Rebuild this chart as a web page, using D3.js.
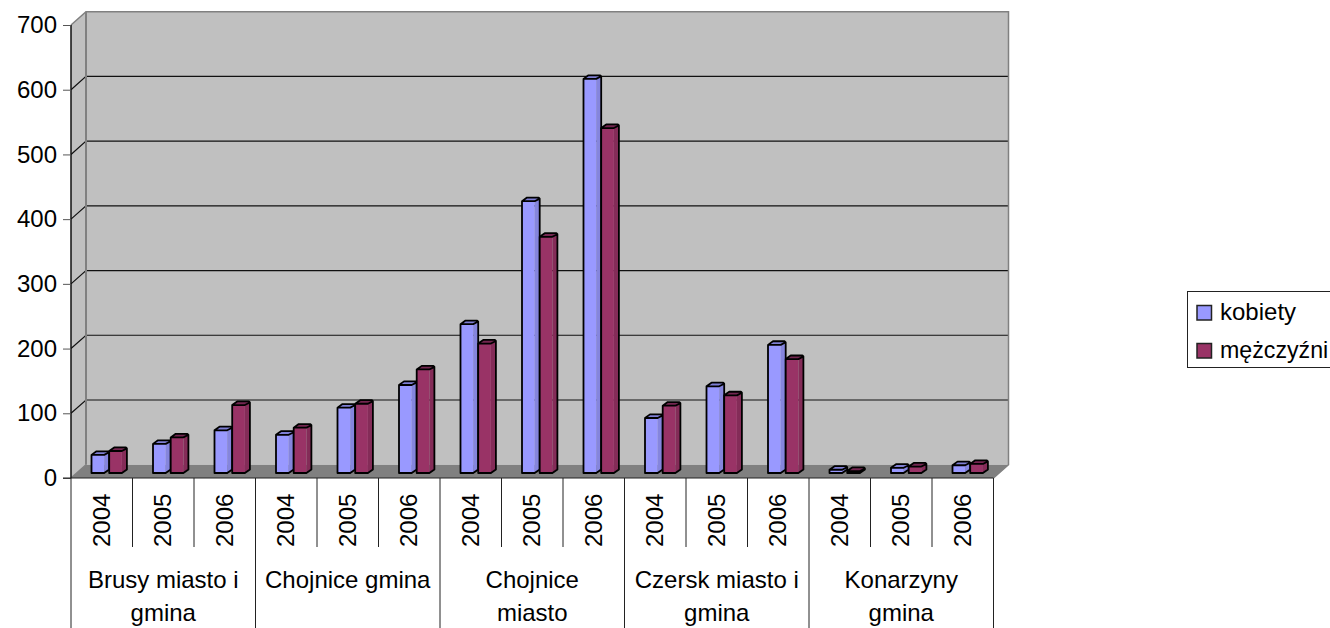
<!DOCTYPE html>
<html><head><meta charset="utf-8">
<script src="https://cdn.jsdelivr.net/npm/d3@7"></script>
<style>html,body{margin:0;padding:0;background:#fff}svg{display:block}text{font-family:"Liberation Sans",Arial,sans-serif;fill:#000}</style>
</head><body><svg id="c" width="1330" height="628"></svg>
<script>
const groups=["Brusy miasto i|gmina","Chojnice gmina","Chojnice|miasto","Czersk miasto i|gmina","Konarzyny|gmina"];
const years=["2004","2005","2006"];
const kobiety=[28,45,66,59,101,136,230,420,609,85,134,198,5,8,12];
const mezczyzni=[34,55,105,70,107,160,200,365,533,104,120,176,3,10,14];
const yTicks=[0,100,200,300,400,500,600,700];
const seriesNames=["kobiety","mężczyźni"];
const seriesColors=[{f:"#9999ff",s:"#8585dd",t:"#7f7fd4"},{f:"#993366",s:"#842c58",t:"#732650"}];

const svg=d3.select("#c");
const X0=71,X1=993.5,Y0=478,Y1=25,DX=15,DY=13.3;
const y=d3.scaleLinear().domain([0,700]).range([Y0,Y1]);
const keys=d3.range(15);
const x=d3.scaleBand().domain(keys).range([X0,X1]);

// walls
svg.append("polygon").attr("points",`${X0},${Y1} ${X0+DX},${Y1-DY} ${X0+DX},${Y0-DY} ${X0},${Y0}`).attr("fill","#c0c0c0");
svg.append("rect").attr("x",X0+DX).attr("y",Y1-DY).attr("width",X1-X0).attr("height",Y0-Y1).attr("fill","#c0c0c0");
svg.append("polygon").attr("points",`${X0},${Y0} ${X0+DX},${Y0-DY} ${X1+DX},${Y0-DY} ${X1},${Y0}`).attr("fill","#808080");
// grid
yTicks.filter(d=>d>0&&d<700).forEach(d=>{
  svg.append("path").attr("d",`M${X0},${y(d)}L${X0+DX},${y(d)-DY}H${X1+DX}`).attr("fill","none").attr("stroke","#111").attr("stroke-width",1.2);
});
// wall edges
svg.append("path").attr("d",`M${X0},${Y1}L${X0+DX},${Y1-DY}H${X1+DX}V${Y0-DY}L${X1},${Y0}`).attr("fill","none").attr("stroke","#808080").attr("stroke-width",1.5);
svg.append("line").attr("x1",X0+DX).attr("x2",X0+DX).attr("y1",Y1-DY).attr("y2",Y0-DY).attr("stroke","#808080").attr("stroke-width",2);
svg.append("line").attr("x1",X0).attr("x2",X0+DX).attr("y1",Y0).attr("y2",Y0-DY).attr("stroke","#808080").attr("stroke-width",1.5);

// y axis
const ay=svg.append("g").attr("transform",`translate(${X0},0)`).call(d3.axisLeft(y).tickValues(yTicks).tickSize(8).tickPadding(6));
ay.select(".domain").attr("stroke","#111").attr("stroke-width",1.5).attr("d",`M0,${Y1}V${Y0}`);
ay.selectAll(".tick line").attr("stroke","#555");
ay.selectAll("text").attr("font-size",24).style("font-family",'"Liberation Sans"').attr("fill","#000");

// bars: narrow prisms whose total width includes the shaded right side
const BW=17.7,BDX=5,BDY=3.6,BOX=20.5,BY=5;
[kobiety,mezczyzni].forEach((vals,si)=>{
  const c=seriesColors[si];
  const g=svg.append("g");
  vals.forEach((v,i)=>{
    const x0=x(i)+BOX+si*BW, x1=x0+BW, xm=x1-BDX, yb=y(0)-BY, yt=y(v)-BY;
    const b=g.append("g");
    b.append("path").attr("fill",c.f).attr("d",`M${x0},${yt}H${xm}V${yb}H${x0}Z`);
    b.append("path").attr("fill",c.s).attr("d",`M${xm},${yt}L${x1},${yt-BDY+1}V${yb-BDY}L${xm},${yb}Z`);
    b.append("path").attr("fill",c.t).attr("d",`M${x0},${yt}L${x0+BDX},${yt-BDY}H${x1-1}L${x1},${yt-BDY+1}L${xm},${yt}Z`);
    b.append("path").attr("fill","none").attr("stroke","#000").attr("stroke-width",1.8).attr("stroke-linejoin","round")
      .attr("d",`M${x0},${yt}L${x0+BDX},${yt-BDY}H${x1-1}L${x1},${yt-BDY+1}V${yb-BDY}L${xm},${yb}H${x0}Z M${x0},${yt}H${xm}L${x1},${yt-BDY+1}`);
  });
});

// x axis
svg.append("line").attr("x1",X0-8).attr("x2",X1).attr("y1",Y0).attr("y2",Y0).attr("stroke","#222").attr("stroke-width",1);
const gx=svg.append("g");
keys.forEach(i=>{
  const cx=x(i)+x.bandwidth()/2;
  gx.append("text").attr("transform",`translate(${cx+8},547) rotate(-90)`).attr("font-size",24).text(years[i%3]);
});
d3.range(16).forEach(i=>{
  const xp=x(i)!==undefined?x(i):X1;
  gx.append("line").attr("x1",xp).attr("x2",xp).attr("y1",Y0).attr("y2",i%3===0?628:547).attr("stroke","#222").attr("stroke-width",1);
});
groups.forEach((g,k)=>{
  const cx=x(k*3)+x.bandwidth()*1.5;
  g.split("|").forEach((l,j)=>{
    gx.append("text").attr("x",cx).attr("y",588+j*33).attr("text-anchor","middle").attr("font-size",24).text(l);
  });
});

// legend
const lg=svg.append("g");
lg.append("rect").attr("x",1187.5).attr("y",291.5).attr("width",143).attr("height",76).attr("fill","#fff").attr("stroke","#222");
seriesNames.forEach((n,i)=>{
  const yy=i===0?312.5:350.5;
  lg.append("rect").attr("x",1197).attr("y",yy-7).attr("width",14.5).attr("height",14.5).attr("fill",seriesColors[i].f).attr("stroke","#222").attr("stroke-width",1.5);
  lg.append("text").attr("x",1220).attr("y",yy+7).attr("font-size",i===0?24:23.2).text(n);
});
</script></body></html>
